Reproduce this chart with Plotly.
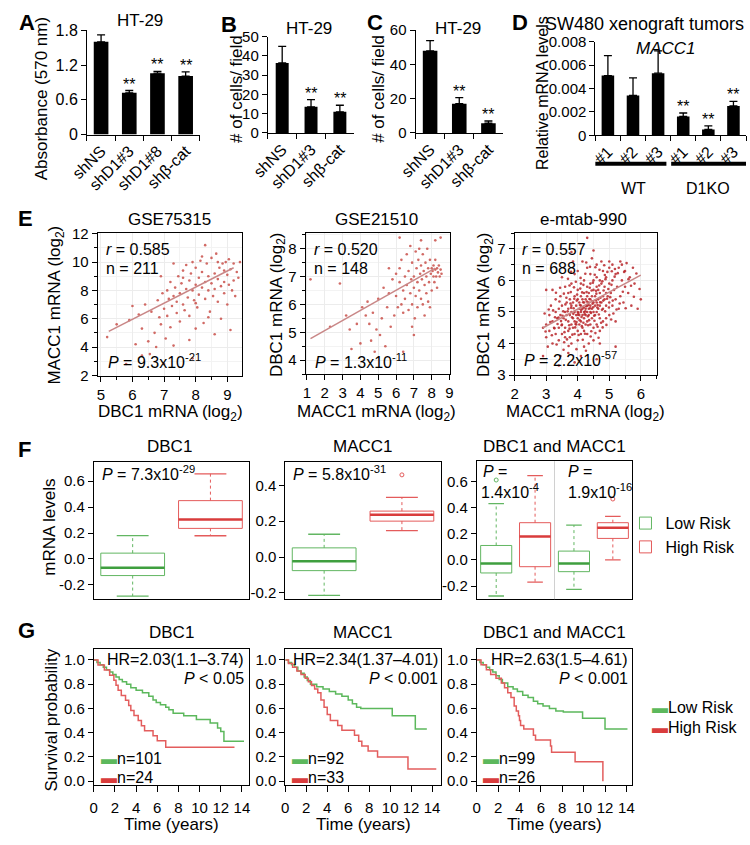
import plotly.graph_objects as go

W, H = 750, 845
FONT = "Liberation Sans, Arial, sans-serif"
GREEN = "#62b662"
GREEN_D = "#3f9f3f"
RED = "#e45b5b"
RED_D = "#d93c3c"
KM_GREEN = "#5cb85c"
KM_RED = "#e35d5d"

# ---------------- Panel A ----------------
a_cats = ["shNS", "shD1#3", "shD1#8", "shβ-cat"]
a_vals = [1.60, 0.72, 1.06, 1.01]
a_errs = [0.12, 0.04, 0.03, 0.07]
a_sig = ["", "**", "**", "**"]
a_ticks = [0, 0.6, 1.2, 1.8]

# ---------------- Panel B ----------------
b_cats = ["shNS", "shD1#3", "shβ-cat"]
b_vals = [36.4, 13.6, 11.0]
b_errs = [8.6, 3.7, 3.4]
b_sig = ["", "**", "**"]
b_ticks = [0, 10, 20, 30, 40, 50]

# ---------------- Panel C ----------------
c_cats = ["shNS", "shD1#3", "shβ-cat"]
c_vals = [48.0, 17.1, 5.7]
c_errs = [5.9, 3.5, 1.3]
c_sig = ["", "**", "**"]
c_ticks = [0, 20, 40, 60]

# ---------------- Panel D ----------------
d_pos = [0, 1, 2, 3, 4, 5]
d_labels = ["#1", "#2", "#3", "#1", "#2", "#3"]
d_vals = [0.0051, 0.0034, 0.0053, 0.0016, 0.0005, 0.0025]
d_errs = [0.0017, 0.0015, 0.0019, 0.0003, 0.0003, 0.0004]
d_sig = ["", "", "", "**", "**", "**"]
d_ticks = [0, 0.002, 0.004, 0.006, 0.008]
d_ticktext = ["0", "0.002", "0.004", "0.006", "0.008"]
d_groups = ["WT", "D1KO"]
d_group_centers = [1, 4]

# ---------------- Panel E ----------------
e1_pts = [(5.2,4.7),(5.5,5.6),(5.8,2.8),(5.9,5.9),(6.0,6.9),(6.1,4.2),(6.2,6.3),(6.3,5.3),(6.4,7.0),(6.5,4.4),
          (6.55,3.5),(6.6,6.5),(6.7,5.0),(6.75,4.0),(6.8,7.3),(6.85,6.1),(6.9,5.6),(6.95,7.8),(7.0,2.8),(7.0,6.7),
          (7.05,4.6),(7.1,8.0),(7.1,6.2),(7.15,7.4),(7.2,5.4),(7.2,8.6),(7.25,6.9),(7.3,7.6),(7.3,4.1),(7.35,8.2),
          (7.4,6.4),(7.4,7.2),(7.45,9.0),(7.5,7.8),(7.5,5.8),(7.55,8.5),(7.6,7.0),(7.6,9.4),(7.65,6.6),(7.7,8.1),
          (7.7,9.8),(7.75,7.5),(7.8,8.7),(7.8,6.2),(7.85,9.2),(7.9,8.0),(7.9,10.0),(7.95,7.3),(8.0,8.4),(8.0,9.6),
          (8.05,6.8),(8.1,8.9),(8.1,7.7),(8.15,10.1),(8.2,8.2),(8.2,9.3),(8.25,5.7),(8.3,8.6),(8.3,7.4),(8.35,9.9),
          (8.4,8.0),(8.4,9.0),(8.45,6.5),(8.5,8.5),(8.5,10.3),(8.55,7.6),(8.6,9.2),(8.6,8.1),(8.65,10.6),(8.7,8.8),
          (8.7,7.2),(8.75,9.6),(8.8,8.3),(8.8,6.0),(8.85,9.9),(8.9,8.6),(8.9,7.8),(8.95,10.0),(9.0,9.1),(9.0,7.0),
          (9.05,8.4),(9.1,9.5),(9.1,5.2),(9.15,8.0),(9.2,9.9),(9.2,8.7),(9.25,7.6),(9.3,9.3),(9.35,8.9),(9.4,10.0),
          (8.3,11.2),(8.0,5.3),(7.8,4.5),(6.3,3.4),(7.9,3.2),(8.6,4.9),(8.4,6.1),(7.6,8.9),(8.0,7.1),(8.9,9.4),
          (7.3,9.9),(8.2,10.4),(9.05,10.2),(6.9,9.0),(8.7,10.0)]
e1_x = [p[0] for p in e1_pts]
e1_y = [p[1] for p in e1_pts]
e1_fit_x = [5.25, 9.2]
e1_fit_y = [5.1, 9.6]

e2_pts = [(1.2,6.9),(2.85,6.75),(2.3,5.2),(3.2,5.6),(3.4,5.1),(3.5,4.4),(3.8,5.3),(4.0,4.6),(4.1,5.9),(4.3,5.6),
          (4.4,6.1),(4.5,5.3),(4.6,4.7),(4.7,5.7),(4.8,4.3),(4.9,5.1),(5.0,6.2),(5.1,4.9),(5.2,5.5),(5.3,6.6),
          (5.4,4.5),(5.5,5.9),(5.6,6.4),(5.7,5.2),(5.8,6.9),(5.9,5.6),(6.0,7.1),(6.0,6.3),(6.1,5.9),(6.2,6.8),
          (6.2,7.3),(6.3,6.0),(6.3,7.6),(6.4,6.5),(6.4,5.7),(6.5,7.0),(6.5,6.2),(6.6,7.8),(6.6,6.7),(6.7,5.8),
          (6.7,7.2),(6.8,6.4),(6.8,8.1),(6.85,6.9),(6.9,7.5),(6.9,6.0),(7.0,7.0),(7.0,6.6),(7.05,5.5),(7.1,7.9),
          (7.1,6.3),(7.15,7.3),(7.2,6.8),(7.2,5.9),(7.25,7.6),(7.3,6.5),(7.3,8.0),(7.35,7.1),(7.4,6.2),(7.4,7.4),
          (7.45,6.9),(7.5,7.8),(7.5,6.0),(7.55,7.2),(7.6,6.7),(7.6,5.6),(7.65,7.5),(7.7,6.4),(7.7,7.0),(7.75,8.0),
          (7.8,6.1),(7.8,7.3),(7.85,6.8),(7.9,7.6),(7.9,5.9),(7.95,7.1),(8.0,7.3),(8.0,6.5),(8.05,7.2),(8.1,7.0),
          (8.1,7.4),(8.15,6.8),(8.2,7.25),(8.2,7.6),(8.25,7.0),(8.3,7.3),(8.3,6.6),(8.35,7.15),(8.4,7.4),(8.45,7.0),
          (8.5,7.25),(8.5,8.4),(8.55,7.1),(8.2,8.3),(6.2,8.4),(7.0,4.9),(6.4,4.3),(7.4,8.3),(5.6,7.3),(6.9,5.2)]
e2_x = [p[0] for p in e2_pts]
e2_y = [p[1] for p in e2_pts]
e2_fit_x = [1.2, 8.2]
e2_fit_y = [4.77, 7.3]

e3_pts = [(2.9,4.5),(3.0,4.6),(3.0,4.2),(3.1,4.9),(3.1,4.4),(3.15,5.2),(3.2,4.7),(3.2,4.0),(3.25,4.5),(3.3,5.0),
          (3.3,4.3),(3.3,5.4),(3.05,3.9),(3.2,5.7),
          (3.35,4.8),(3.4,4.5),(3.4,5.1),(3.4,4.1),(3.45,4.9),(3.45,5.5),(3.5,4.6),(3.5,4.3),(3.5,5.2),(3.55,4.8),
          (3.55,3.8),(3.6,5.0),(3.6,4.5),(3.6,5.8),(3.6,4.2),(3.5,6.1),(3.45,3.6),
          (3.65,4.9),(3.65,5.3),(3.7,4.7),(3.7,5.1),(3.7,4.4),(3.7,5.6),(3.75,4.9),(3.75,4.2),(3.75,5.4),(3.8,5.0),
          (3.8,4.6),(3.8,5.2),(3.8,4.0),(3.8,5.9),(3.85,4.8),(3.85,5.3),(3.85,4.5),(3.9,5.0),(3.9,5.5),(3.9,4.7),
          (3.9,4.3),(3.9,6.2),(3.7,3.7),(3.85,6.6),
          (3.95,4.9),(3.95,5.2),(3.95,4.6),(4.0,5.0),(4.0,5.4),(4.0,4.8),(4.0,4.4),(4.0,5.7),(4.0,4.1),(4.05,5.1),
          (4.05,4.9),(4.05,5.3),(4.05,4.6),(4.1,5.0),(4.1,5.2),(4.1,4.7),(4.1,5.5),(4.1,4.3),(4.1,5.9),(4.15,4.9),
          (4.15,5.1),(4.15,5.4),(4.15,4.5),(4.2,5.0),(4.2,5.3),(4.2,4.8),(4.2,5.6),(4.2,4.4),(4.2,6.0),(4.2,3.9),
          (4.0,6.3),(4.15,6.6),(4.1,3.6),
          (4.25,5.1),(4.25,4.9),(4.25,5.4),(4.25,4.6),(4.3,5.2),(4.3,5.0),(4.3,5.5),(4.3,4.7),(4.3,5.8),(4.3,4.3),
          (4.35,5.1),(4.35,5.3),(4.35,4.9),(4.35,5.6),(4.4,5.2),(4.4,5.0),(4.4,5.4),(4.4,4.6),(4.4,5.9),(4.4,6.2),
          (4.45,5.1),(4.45,5.5),(4.45,4.8),(4.5,5.3),(4.5,5.0),(4.5,5.7),(4.5,4.5),(4.5,6.0),(4.5,4.1),(4.3,6.4),
          (4.45,6.7),(4.35,4.0),
          (4.55,5.2),(4.55,5.5),(4.55,4.9),(4.6,5.3),(4.6,5.0),(4.6,5.8),(4.6,4.6),(4.6,6.1),(4.65,5.4),(4.65,5.1),
          (4.65,5.7),(4.7,5.2),(4.7,5.6),(4.7,4.8),(4.7,6.0),(4.7,4.4),(4.75,5.3),(4.75,5.9),(4.8,5.5),(4.8,5.1),
          (4.8,6.3),(4.8,4.7),(4.6,6.5),(4.75,6.6),(4.7,4.0),
          (4.85,5.4),(4.85,5.8),(4.9,5.2),(4.9,5.6),(4.9,6.1),(4.9,4.8),(4.95,5.5),(5.0,5.3),(5.0,5.9),(5.0,6.4),
          (5.0,4.9),(5.05,5.6),(5.1,5.2),(5.1,6.0),(5.1,6.5),(5.15,5.7),(5.2,5.4),(5.2,6.2),(5.2,4.7),(5.0,6.6),
          (5.25,5.8),(5.3,5.1),(5.3,6.4),(5.35,5.5),(5.4,6.0),(5.4,6.5),(5.45,5.3),(5.5,5.8),(5.5,6.3),(5.6,5.6),
          (5.65,6.1),(5.7,5.2),(5.8,5.9),(5.9,5.1),(6.0,5.4),(5.35,6.6),(5.55,6.55),
          (4.3,7.35),(3.8,6.9),(4.5,6.95),(3.4,3.3),(4.6,3.5),(5.2,3.9),(3.0,5.7),(2.9,3.6),(3.9,3.4),(5.75,6.4),
          (3.62,4.75),(3.68,5.02),(3.73,4.58),(3.77,5.27),(3.82,4.83),(3.87,5.12),(3.93,4.62),(3.97,5.36),(4.02,4.97),(4.07,5.22),
          (4.12,4.84),(4.17,5.31),(4.22,4.93),(4.27,5.18),(4.32,4.86),(4.37,5.41),(4.42,4.97),(4.47,5.26),(4.52,4.88),(4.57,5.37),
          (4.62,5.14),(4.67,4.92),(4.72,5.45),(4.77,5.07),(4.82,5.68),(3.58,4.36),(3.66,4.13),(3.74,4.47),(3.83,4.28),(3.92,4.51),
          (4.03,4.27),(4.13,4.55),(4.23,4.31),(4.33,4.58),(4.43,4.39),(4.53,4.72),(4.63,4.53),(3.64,5.45),(3.78,5.63),(3.88,5.78),
          (3.98,5.55),(4.08,5.74),(4.18,5.86),(4.28,5.63),(4.38,5.77),(4.48,5.93),(4.58,5.67),(4.68,5.84),(4.78,5.97),(4.88,6.04),
          (4.97,5.73),(5.07,5.86),(5.17,6.12),(5.27,6.23),(3.52,4.88),(3.47,4.71),(3.42,5.33),(3.36,4.62),(3.28,4.83),(3.22,5.05),
          (3.13,4.68),(3.08,5.08),(2.98,4.38),(3.33,3.97),(3.57,4.04),(3.71,3.92),(3.96,3.82),(4.16,4.12),(4.26,3.77),(4.41,4.22),
          (4.56,4.33),(4.66,4.18),(4.79,4.51),(4.91,4.59),(5.06,4.76),(5.13,4.95),(5.23,5.08),(5.33,5.27),(5.43,5.64),(5.52,5.12),
          (5.61,6.04),(5.69,5.83),(5.78,5.48),(5.86,6.22),(5.96,5.73),(5.47,6.27),(5.18,6.36),(4.94,6.27),(4.84,6.48),(4.69,6.34),
          (4.54,6.18),(4.39,6.43),(4.24,6.21),(4.09,6.08),(3.94,5.96),(3.79,6.27),(3.69,6.05),(3.56,5.58),(3.44,5.77),(3.31,5.61),
          (3.96,4.68),(4.06,4.74),(4.11,5.06),(4.19,5.14),(4.24,5.02),(4.29,5.33),(4.34,5.22),(4.39,5.12),(4.46,5.34),(4.49,5.15),
          (4.36,4.74),(4.18,4.66),(4.01,4.91),(3.86,4.94),(3.79,5.13),(4.63,5.22),(4.71,5.31),(4.59,5.58),(4.81,5.36),(4.93,5.42),
          (5.03,5.47),(5.11,5.36),(4.99,5.14),(4.87,5.02),(4.74,4.66),(3.54,5.02),(3.61,5.24),(3.89,5.42),(4.14,5.62),(4.44,5.68),
          (2.95,4.95),(3.18,4.26),(3.26,4.48),(3.39,4.82),(3.49,4.58),(4.56,6.42),(4.86,6.17),(5.08,6.29),(3.74,5.84),(4.27,6.57)]
e3_x = [p[0] for p in e3_pts]
e3_y = [p[1] for p in e3_pts]
e3_fit_x = [2.9, 6.0]
e3_fit_y = [4.5, 6.17]

# ---------------- Panel F (box summaries) ----------------
f1_pos = [0, 1]
f1_q1 = [-0.128, 0.236]
f1_med = [-0.068, 0.304]
f1_q3 = [0.045, 0.45]
f1_lo = [-0.287, 0.179]
f1_hi = [0.18, 0.657]
f1_col = ["low", "high"]

f2_pos = [0, 1]
f2_q1 = [-0.076, 0.20]
f2_med = [-0.024, 0.235]
f2_q3 = [0.051, 0.256]
f2_lo = [-0.214, 0.147]
f2_hi = [0.127, 0.333]
f2_col = ["low", "high"]
f2_out_x = [1]
f2_out_y = [0.458]

f3_pos = [0, 1, 2, 3]
f3_q1 = [-0.10, -0.052, -0.09, 0.164]
f3_med = [-0.028, 0.179, -0.028, 0.246]
f3_q3 = [0.11, 0.284, 0.067, 0.284]
f3_lo = [-0.276, -0.17, -0.226, 0.0]
f3_hi = [0.43, 0.644, 0.266, 0.333]
f3_col = ["low", "high", "low", "high"]
f3_out_x = [0, 3]
f3_out_y = [0.61, 0.465]
f3_out_col = ["low", "high"]

# ---------------- Panel G (Kaplan-Meier) ----------------
g1_low_t = [0, 0.3, 0.6, 0.9, 1.2, 1.5, 1.8, 2.1, 2.4, 2.7, 3.1, 3.5, 4.0, 4.6, 5.2, 5.6, 5.9, 6.3, 6.8, 7.1, 7.5, 8.5, 9.7, 11.0, 11.7, 12.0, 12.3, 14.2]
g1_low_s = [1.0, 0.98, 0.96, 0.94, 0.92, 0.90, 0.88, 0.86, 0.84, 0.82, 0.80, 0.77, 0.75, 0.73, 0.70, 0.67, 0.65, 0.63, 0.61, 0.59, 0.56, 0.54, 0.51, 0.48, 0.44, 0.41, 0.33, 0.33]
g1_high_t = [0, 0.4, 1.0, 1.5, 1.9, 2.1, 2.3, 2.6, 3.0, 3.3, 3.5, 3.8, 4.2, 4.5, 4.8, 5.6, 6.0, 6.8, 13.3]
g1_high_s = [1.0, 0.958, 0.917, 0.875, 0.833, 0.792, 0.75, 0.708, 0.667, 0.625, 0.583, 0.542, 0.50, 0.458, 0.417, 0.375, 0.333, 0.28, 0.28]

g2_low_t = [0, 0.3, 0.6, 0.9, 1.2, 1.5, 1.8, 2.1, 2.4, 3.0, 3.6, 4.2, 4.8, 5.4, 6.0, 6.4, 6.8, 7.2, 10.2, 12.4, 13.5]
g2_low_s = [1.0, 0.98, 0.96, 0.94, 0.91, 0.89, 0.86, 0.83, 0.80, 0.78, 0.76, 0.74, 0.72, 0.70, 0.67, 0.64, 0.61, 0.60, 0.54, 0.43, 0.43]
g2_high_t = [0, 0.3, 0.7, 1.1, 1.5, 1.9, 2.2, 2.5, 2.8, 3.1, 3.4, 3.7, 4.0, 4.3, 5.0, 5.4, 6.6, 7.0, 7.3, 7.9, 8.8, 11.7, 14.4]
g2_high_s = [1.0, 0.97, 0.94, 0.91, 0.88, 0.85, 0.82, 0.79, 0.76, 0.73, 0.67, 0.61, 0.55, 0.50, 0.46, 0.42, 0.38, 0.33, 0.29, 0.25, 0.20, 0.10, 0.10]

g3_low_t = [0, 0.3, 0.6, 0.9, 1.2, 1.5, 1.8, 2.1, 2.4, 2.9, 3.4, 3.8, 4.3, 4.8, 5.3, 5.7, 6.2, 6.8, 7.4, 8.1, 9.9, 12.0, 14.1]
g3_low_s = [1.0, 0.98, 0.96, 0.94, 0.92, 0.90, 0.87, 0.84, 0.81, 0.78, 0.76, 0.74, 0.71, 0.69, 0.66, 0.64, 0.62, 0.60, 0.58, 0.57, 0.52, 0.43, 0.43]
g3_high_t = [0, 0.4, 0.9, 1.3, 1.8, 2.3, 2.6, 2.9, 3.2, 3.5, 3.7, 3.9, 4.0, 4.1, 4.4, 5.3, 5.5, 6.9, 7.0, 9.2, 11.8]
g3_high_s = [1.0, 0.96, 0.92, 0.88, 0.85, 0.81, 0.77, 0.73, 0.69, 0.62, 0.58, 0.54, 0.50, 0.46, 0.43, 0.38, 0.34, 0.29, 0.24, 0.16, 0.0]

g_titles = ["DBC1", "MACC1", "DBC1 and MACC1"]
g_hr = ["HR=2.03(1.1–3.74)", "HR=2.34(1.37–4.01)", "HR=2.63(1.5–4.61)"]
g_p = ["<i>P</i> < 0.05", "<i>P</i> < 0.001", "<i>P</i> < 0.001"]
g_n_low = ["n=101", "n=92", "n=99"]
g_n_high = ["n=24", "n=33", "n=26"]

# =====================================================================
fig = go.Figure()
layout = dict(width=W, height=H, autosize=False, margin=dict(l=0, r=0, t=0, b=0, pad=0),
              paper_bgcolor="white", plot_bgcolor="white",
              font=dict(family=FONT, color="black", size=15),
              annotations=[], shapes=[])


def xn(n):
    return "x" if n == 1 else f"x{n}"


def yn(n):
    return "y" if n == 1 else f"y{n}"


def setax(n, xd, yd, xo, yo):
    kx = "xaxis" if n == 1 else f"xaxis{n}"
    ky = "yaxis" if n == 1 else f"yaxis{n}"
    layout[kx] = dict(domain=[xd[0] / W, xd[1] / W], anchor=yn(n), **xo)
    layout[ky] = dict(domain=[1 - yd[1] / H, 1 - yd[0] / H], anchor=xn(n), **yo)


def ann(text, x, y, size=16, xanchor="center", yanchor="middle", angle=0, color="black"):
    layout["annotations"].append(dict(text=text, x=x / W, y=1 - y / H, xref="paper", yref="paper",
                                      showarrow=False, xanchor=xanchor, yanchor=yanchor,
                                      textangle=angle, font=dict(size=size, color=color, family=FONT)))


BASE = dict(showline=True, linecolor="black", linewidth=1, ticks="outside", ticklen=5,
            tickcolor="black", tickwidth=1, zeroline=False, showgrid=False,
            tickfont=dict(size=15, color="black", family=FONT))
BAR_TF = dict(size=16, color="black", family=FONT)
BAR_YTF = dict(size=15, color="black", family=FONT)


def bar_panel(n, xs, vals, errs, sig, width):
    fig.add_trace(go.Bar(x=xs, y=vals, width=width, marker=dict(color="black", line=dict(width=0)),
                         error_y=dict(type="data", array=errs, arrayminus=[0] * len(errs), symmetric=False,
                                      color="black", thickness=1.3, width=4),
                         xaxis=xn(n), yaxis=yn(n), showlegend=False))
    for x, v, e, s in zip(xs, vals, errs, sig):
        if s:
            layout["annotations"].append(dict(text=s, x=x, y=v + e, xref=xn(n), yref=yn(n), showarrow=False,
                                              yanchor="bottom", yshift=-4,
                                              font=dict(size=16, color="black", family=FONT)))


# ---- A ----
bar_panel(1, a_cats, a_vals, a_errs, a_sig, 0.52)
setax(1, (72, 188), (21.7, 128.3),
      dict(BASE, type="category", categoryarray=a_cats, tickson="boundaries", tickangle=-45, tickfont=BAR_TF),
      dict(BASE, range=[0, 1.8], tickvals=a_ticks, ticktext=["0", "0.6", "1.2", "1.8"], tickfont=BAR_TF))
# ---- B ----
bar_panel(2, b_cats, b_vals, b_errs, b_sig, 0.45)
setax(2, (258, 347), (28.3, 126.7),
      dict(BASE, type="category", categoryarray=b_cats, tickson="boundaries", tickangle=-45, tickfont=BAR_TF),
      dict(BASE, range=[0, 50], tickvals=b_ticks, tickfont=BAR_YTF))
# ---- C ----
bar_panel(3, c_cats, c_vals, c_errs, c_sig, 0.5)
setax(3, (410, 500), (21.7, 126.7),
      dict(BASE, type="category", categoryarray=c_cats, tickson="boundaries", tickangle=-45, tickfont=BAR_TF),
      dict(BASE, range=[0, 60], tickvals=c_ticks, tickfont=BAR_YTF))
# ---- D ----
bar_panel(4, d_pos, d_vals, d_errs, d_sig, 0.5)
setax(4, (595, 750), (33.3, 129),
      dict(BASE, range=[-0.5, 5.5], tickvals=d_pos, ticktext=d_labels, ticks="", tickangle=-45, tickfont=BAR_TF,
           minor=dict(tickvals=[p - 0.5 for p in d_pos] + [5.5], ticks="outside", ticklen=5, tickcolor="black")),
      dict(BASE, range=[0, 0.008], tickvals=d_ticks, ticktext=d_ticktext, tickfont=BAR_YTF))
for g, c in zip(d_groups, d_group_centers):
    layout["annotations"].append(dict(text=g, x=c, y=1 - 173 / H, xref="x4", yref="paper", showarrow=False,
                                      font=dict(size=16, color="black", family=FONT)))
layout["shapes"].append(dict(type="line", xref="x4", yref="paper", x0=-0.78, x1=2.33,
                             y0=1 - 158 / H, y1=1 - 158 / H, line=dict(color="black", width=4)))
layout["shapes"].append(dict(type="line", xref="x4", yref="paper", x0=2.52, x1=5.5,
                             y0=1 - 158 / H, y1=1 - 158 / H, line=dict(color="black", width=4)))

# ---- E ----
EAX = dict(BASE, mirror=True, showgrid=True, gridcolor="#ececec")
e_specs = [
    (5, e1_x, e1_y, e1_fit_x, e1_fit_y, (83, 231), (229, 375), [4.9, 9.45], [1.95, 12.05], 1, 0.5, 2, 1, 2.6, "#c9504a"),
    (6, e2_x, e2_y, e2_fit_x, e2_fit_y, (297, 445), (229, 373), [0.93, 9.0], [3.5, 8.56], 1, None, 1, 0.5, 2.6, "#c9504a"),
    (7, e3_x, e3_y, e3_fit_x, e3_fit_y, (512, 658), (229, 374), [2.0, 6.5], [3.0, 7.5], 1, 0.5, 1, 0.5, 2.6, "#b8262a"),
]
for n, ex, ey, fx, fy, xd, yd, xr, yr, xdt, xmin, ydt, ymin, ms, mc in e_specs:
    fig.add_trace(go.Scatter(x=ex, y=ey, mode="markers", marker=dict(size=ms, color=mc, opacity=0.85),
                             xaxis=xn(n), yaxis=yn(n), showlegend=False))
    fig.add_trace(go.Scatter(x=fx, y=fy, mode="lines", line=dict(color="#c98787", width=1.5),
                             xaxis=xn(n), yaxis=yn(n), showlegend=False))
    xo = dict(EAX, range=xr, dtick=xdt, tick0=0)
    if xmin:
        xo["minor"] = dict(dtick=xmin, tick0=0, ticks="outside", ticklen=3, tickcolor="black", showgrid=True,
                           gridcolor="#f3f3f3")
    yo = dict(EAX, range=yr, dtick=ydt, tick0=0,
              minor=dict(dtick=ymin, tick0=0, ticks="outside", ticklen=3, tickcolor="black", showgrid=True,
                         gridcolor="#f3f3f3"))
    setax(n, xd, yd, xo, yo)

# ---- F ----
FAX_X = dict(showline=True, linecolor="black", linewidth=1, mirror=True, ticks="", showticklabels=False,
             zeroline=False, showgrid=False)
FY_TICKS = [-0.2, 0.0, 0.2, 0.4, 0.6]
FY_TEXT = ["-0.2", "0.0", "0.2", "0.4", "0.6"]
col_map = {"low": (GREEN, GREEN_D, "Low Risk"), "high": (RED, RED_D, "High Risk")}


def box_panel(n, pos, q1, med, q3, lo, hi, cols, width, legend=False):
    for p, a, m, b, l, h, c in zip(pos, q1, med, q3, lo, hi, cols):
        lc, mc, name = col_map[c]
        # box body (whiskers drawn separately as dotted lines, as in the reference)
        fig.add_trace(go.Box(x=[p], q1=[a], median=[m], q3=[b], lowerfence=[a], upperfence=[b],
                             width=width, whiskerwidth=0, boxpoints=False, orientation="v",
                             line=dict(color=lc, width=1), fillcolor="rgba(255,255,255,0)",
                             name=name, showlegend=legend, xaxis=xn(n), yaxis=yn(n)))
        fig.add_trace(go.Scatter(x=[p, p, None, p, p], y=[b, h, None, a, l], mode="lines",
                                 line=dict(color=lc, width=1, dash="dot"), showlegend=False,
                                 xaxis=xn(n), yaxis=yn(n)))
        cw = width / 4
        fig.add_trace(go.Scatter(x=[p - cw, p + cw, None, p - cw, p + cw], y=[h, h, None, l, l], mode="lines",
                                 line=dict(color=lc, width=1.3), showlegend=False,
                                 xaxis=xn(n), yaxis=yn(n)))
        fig.add_trace(go.Scatter(x=[p - width / 2, p + width / 2], y=[m, m], mode="lines",
                                 line=dict(color=mc, width=2.5), showlegend=False,
                                 xaxis=xn(n), yaxis=yn(n)))


box_panel(8, f1_pos, f1_q1, f1_med, f1_q3, f1_lo, f1_hi, f1_col, 0.82, legend=True)
setax(8, (79, 239), (463, 603), dict(FAX_X, range=[-0.5, 1.5]),
      dict(BASE, mirror=True, range=[-0.31, 0.747], tickvals=FY_TICKS, ticktext=FY_TEXT))
box_panel(9, f2_pos, f2_q1, f2_med, f2_q3, f2_lo, f2_hi, f2_col, 0.82)
fig.add_trace(go.Scatter(x=f2_out_x, y=f2_out_y, mode="markers",
                         marker=dict(symbol="circle-open", size=4, color=RED), showlegend=False,
                         xaxis=xn(9), yaxis=yn(9)))
setax(9, (276, 436), (463, 603), dict(FAX_X, range=[-0.5, 1.5]),
      dict(BASE, mirror=True, range=[-0.235, 0.529], tickvals=FY_TICKS[:4], ticktext=FY_TEXT[:4]))
box_panel(10, f3_pos, f3_q1, f3_med, f3_q3, f3_lo, f3_hi, f3_col, 0.8)
fig.add_trace(go.Scatter(x=f3_out_x, y=f3_out_y, mode="markers",
                         marker=dict(symbol="circle-open", size=4, color=[col_map[c][0] for c in f3_out_col]),
                         showlegend=False, xaxis=xn(10), yaxis=yn(10)))
setax(10, (473, 633), (462, 603), dict(FAX_X, range=[-0.5, 3.5]),
      dict(BASE, mirror=True, range=[-0.30, 0.754], tickvals=FY_TICKS, ticktext=FY_TEXT))
layout["shapes"].append(dict(type="line", xref="x10", yref="y10 domain", x0=1.5, x1=1.5, y0=0, y1=1,
                             line=dict(color="#d0d0d0", width=1)))

# ---- G ----
g_specs = [
    (11, g1_low_t, g1_low_s, g1_high_t, g1_high_s, (79, 239), [0, 14.7]),
    (12, g2_low_t, g2_low_s, g2_high_t, g2_high_s, (276, 436), [0, 14.83]),
    (13, g3_low_t, g3_low_s, g3_high_t, g3_high_s, (473, 633), [0, 14.55]),
]
for n, lt, ls, ht, hs, xd, xr in g_specs:
    fig.add_trace(go.Scatter(x=lt, y=ls, mode="lines", line=dict(color=KM_GREEN, width=1.5, shape="hv"),
                             showlegend=False, xaxis=xn(n), yaxis=yn(n)))
    fig.add_trace(go.Scatter(x=ht, y=hs, mode="lines", line=dict(color=KM_RED, width=1.5, shape="hv"),
                             showlegend=False, xaxis=xn(n), yaxis=yn(n)))
    setax(n, xd, (654, 793),
          dict(BASE, mirror=True, range=xr, tickvals=list(range(0, 15, 2)), ticklen=6, ticklabelstandoff=3),
          dict(BASE, mirror=True, range=[-0.032, 1.09], tickvals=[0, 0.2, 0.4, 0.6, 0.8, 1.0],
               ticktext=["0.0", "0.2", "0.4", "0.6", "0.8", "1.0"]))

# ---------------- Text annotations ----------------
for lab, x, y in [("A", 10, 14), ("B", 218, 16), ("C", 368, 14), ("D", 517, 14),
                  ("E", 9, 214), ("F", 8, 450), ("G", 10, 635)]:
    ann(f"<b>{lab}</b>", x, y, size=22)

ann("HT-29", 127, 12, 17)
ann("HT-29", 300, 20, 17)
ann("HT-29", 454, 20, 17)
ann("SW480 xenograft tumors", 750, 15, 18, xanchor="right")
ann("<i>MACC1</i>", 668, 40, 17)
ann("Absorbance (570 nm)", 25, 92, 17, angle=-90)
ann("# of cells/ field", 226, 82, 17, angle=-90)
ann("# of cells/ field", 372, 82, 17, angle=-90)
ann("Relative mRNA levels", 540, 86, 16, angle=-90)

ann("GSE75315", 157, 215, 17)
ann("GSE21510", 370, 215, 17)
ann("e-mtab-990", 583, 215, 17)
for xl, r, nn, p, py in [(90, "0.585", "211", "9.3x10<sup>-21</sup>", 360),
                         (303, "0.520", "148", "1.3x10<sup>-11</sup>", 360),
                         (518, "0.557", "688", "2.2x10<sup>-57</sup>", 358)]:
    ann(f"<i>r</i> = {r}", xl, 246, 16, xanchor="left")
    ann(f"n = {nn}", xl, 265, 16, xanchor="left")
    ann(f"<i>P</i> = {p}", xl + 2, py, 16, xanchor="left")
ann("DBC1 mRNA (log<sub>2</sub>)", 158, 413, 17)
ann("MACC1 mRNA (log<sub>2</sub>)", 370, 413, 17)
ann("MACC1 mRNA (log<sub>2</sub>)", 585, 413, 17)
ann("MACC1 mRNA (log<sub>2</sub>)", 40, 302, 17, angle=-90)
ann("DBC1 mRNA (log<sub>2</sub>)", 268, 302, 17, angle=-90)
ann("DBC1 mRNA (log<sub>2</sub>)", 481, 302, 17, angle=-90)

ann("DBC1", 157, 447, 17)
ann("MACC1", 356, 447, 17)
ann("DBC1 and MACC1", 553, 447, 17)
ann("mRNA levels", 34, 530, 17, angle=-90)
ann("<i>P</i> = 7.3x10<sup>-29</sup>", 85, 474, 16, xanchor="left")
ann("<i>P</i> = 5.8x10<sup>-31</sup>", 282, 474, 16, xanchor="left")
ann("<i>P</i> =", 477, 473, 16, xanchor="left")
ann("1.4x10<sup>-4</sup>", 475, 493, 16, xanchor="left")
ann("<i>P</i> =", 565, 473, 16, xanchor="left")
ann("1.9x10<sup>-16</sup>", 565, 493, 16, xanchor="left")

for i, cx in enumerate([159, 356, 553]):
    ann(g_titles[i], cx, 637, 17)
    ann("Time (years)", cx, 833, 17)
for i, (rx, lx) in enumerate([(236, 84), (435, 281), (631, 477)]):
    ann(g_hr[i], rx, 665, 16, xanchor="right")
    ann(g_p[i], rx, 684, 16, xanchor="right")
    ann(f"<span style='color:{KM_GREEN}'>▬</span>{g_n_low[i]}", lx, 766, 16, xanchor="left")
    ann(f"<span style='color:{RED_D}'>▬</span>{g_n_high[i]}", lx, 785, 16, xanchor="left")
ann("Survival probability", 35, 727, 17, angle=-90)
ann(f"<span style='color:{KM_GREEN}'>▬</span>Low Risk", 651, 714, 16, xanchor="left")
ann(f"<span style='color:{RED_D}'>▬</span>High Risk", 651, 734, 16, xanchor="left")

layout["legend"] = dict(x=626 / W, y=1 - 508 / H, xanchor="left", yanchor="top",
                        font=dict(size=16, family=FONT, color="black"), bgcolor="rgba(0,0,0,0)",
                        itemwidth=30, tracegroupgap=0)
layout["showlegend"] = True

fig.update_layout(**layout)
fig.write_html("out.html", config={"displayModeBar": False},
               post_script="document.body.style.margin='0px';document.body.style.overflow='hidden';")
